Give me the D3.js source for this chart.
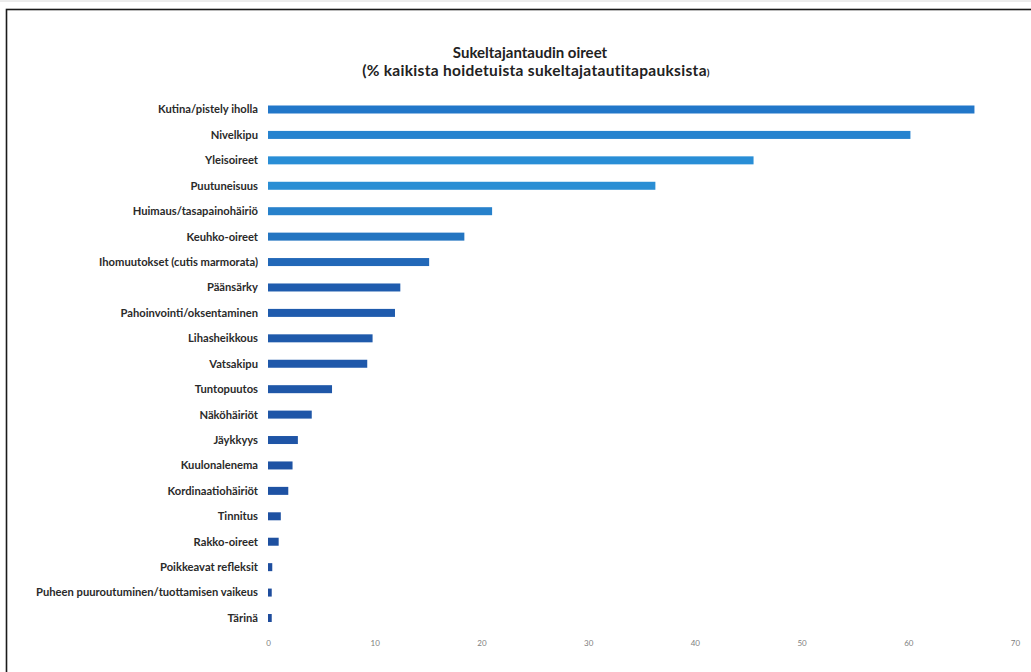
<!DOCTYPE html>
<html>
<head>
<meta charset="utf-8">
<script src="https://cdn.jsdelivr.net/npm/d3@7"></script>
<style>
  body { margin: 0; background: #fff; }
  svg { display: block; }
</style>
</head>
<body>
<div id="chart"></div>
<script>
// symptom names, top to bottom
const symptoms = [
  "Kutina/pistely iholla",
  "Nivelkipu",
  "Yleisoireet",
  "Puutuneisuus",
  "Huimaus/tasapainohäiriö",
  "Keuhko-oireet",
  "Ihomuutokset (cutis marmorata)",
  "Päänsärky",
  "Pahoinvointi/oksentaminen",
  "Lihasheikkous",
  "Vatsakipu",
  "Tuntopuutos",
  "Näköhäiriöt",
  "Jäykkyys",
  "Kuulonalenema",
  "Kordinaatiohäiriöt",
  "Tinnitus",
  "Rakko-oireet",
  "Poikkeavat refleksit",
  "Puheen puuroutuminen/tuottamisen vaikeus",
  "Tärinä"
]
// % of all treated cases
const percents = [66.2, 60.2, 45.5, 36.3, 21.0, 18.4, 15.1, 12.4, 11.9, 9.8, 9.3,
  6.0, 4.1, 2.8, 2.3, 1.9, 1.2, 1.0, 0.4, 0.35, 0.35]
const xTicks = [0, 10, 20, 30, 40, 50, 60, 70]

const titleLine1 = "Sukeltajantaudin oireet"
const titleLine2 = "(% kaikista hoidetuista sukeltajatautitapauksista"

const width = 1031, height = 672
const svg = d3.select('#chart').append('svg')
  .attr('width', width)
  .attr('height', height)

// frame of the scanned page
svg.append('line')
  .attr('x1', 0).attr('x2', width)
  .attr('y1', 1).attr('y2', 1)
  .style('stroke', '#d8d8d8')
svg.append('rect')
  .attr('x', 6.5).attr('y', 9.5)
  .attr('width', width + 20).attr('height', height + 20)
  .style('fill', 'none')
  .style('stroke', '#1a1a1a')
  .style('stroke-width', 1.6)

const x = d3.scaleLinear()
  .domain([0, 70])
  .range([268, 1015])

const y = d3.scalePoint()
  .domain(symptoms)
  .range([109.5, 618])

const barH = 8

// lighter blue at the top, darker toward the bottom
const color = d3.scaleLinear()
  .domain([0, 2.5, 7, 20])
  .range(['#2277c9', '#2b94d9', '#1f5cae', '#1e4c9c'])

const g = svg.append('g')

g.selectAll('rect.bar')
  .data(symptoms)
  .join('rect')
  .attr('class', 'bar')
  .attr('x', x(0))
  .attr('y', d => y(d) - barH / 2)
  .attr('width', (d, i) => x(percents[i]) - x(0))
  .attr('height', barH)
  .style('fill', (d, i) => color(i))

g.selectAll('text.label')
  .data(symptoms)
  .join('text')
  .attr('class', 'label')
  .attr('x', 258)
  .attr('y', d => y(d))
  .attr('dy', '0.35em')
  .attr('text-anchor', 'end')
  .style('font-family', 'Lato, sans-serif')
  .style('font-weight', 700)
  .style('font-size', '11.2px')
  .style('fill', '#2a2a2a')
  .text(d => d)

// x axis: labels only
const axis = svg.append('g')
  .attr('transform', 'translate(0, 640)')
  .call(d3.axisBottom(x).tickValues(xTicks).tickSize(0).tickPadding(0))
axis.select('.domain').remove()
axis.selectAll('text')
  .style('font-family', 'Lato, sans-serif')
  .style('font-size', '8px')
  .style('fill', '#808080')

// title
svg.append('text')
  .attr('x', 530)
  .attr('y', 58)
  .attr('text-anchor', 'middle')
  .style('font-family', 'Lato, sans-serif')
  .style('font-weight', 700)
  .style('font-size', '15px')
  .style('fill', '#222')
  .text(titleLine1)

const t2 = svg.append('text')
  .attr('x', 536)
  .attr('y', 76)
  .attr('text-anchor', 'middle')
  .style('font-family', 'Lato, sans-serif')
  .style('font-weight', 700)
  .style('font-size', '15.5px')
  .style('letter-spacing', '0.3px')
  .style('fill', '#222')
t2.append('tspan').text(titleLine2)
t2.append('tspan').style('font-size', '10px').text(')')
</script>
</body>
</html>
